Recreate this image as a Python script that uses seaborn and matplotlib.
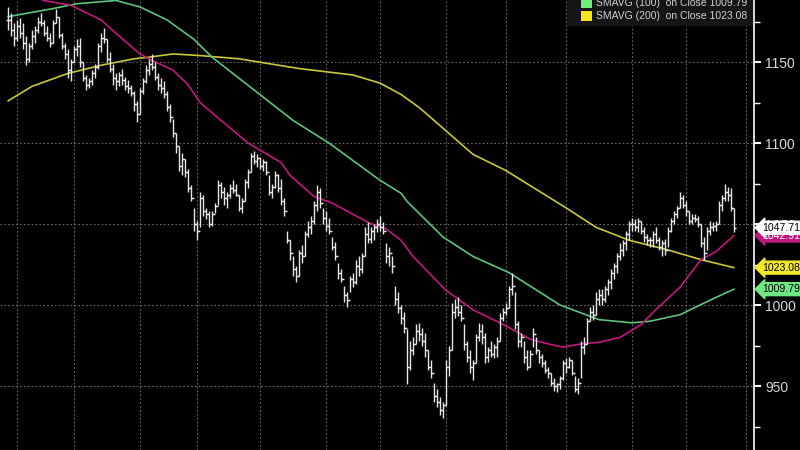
import numpy as np
import pandas as pd
import matplotlib
matplotlib.use("Agg")
import matplotlib.pyplot as plt
from matplotlib.patches import Rectangle
import seaborn as sns

# daily bars (price units)
high = [1184, 1180, 1174, 1176, 1177, 1174, 1166, 1162, 1170, 1172, 1178, 1180, 1176, 1172, 1168, 1176, 1183, 1178, 1168, 1162,
        1158, 1152, 1160, 1164, 1165, 1150, 1142, 1140, 1145, 1149, 1162, 1168, 1171, 1164, 1156, 1149, 1143, 1144, 1146, 1141,
        1139, 1136, 1132, 1126, 1134, 1140, 1148, 1152, 1155, 1150, 1143, 1140, 1138, 1132, 1124,
        1115, 1106, 1098, 1094, 1090, 1084, 1074, 1060, 1052, 1070, 1068, 1060, 1058, 1058, 1063, 1077, 1076, 1073, 1070, 1075,
        1077, 1075, 1068, 1066, 1078, 1084, 1094, 1095, 1093, 1091, 1090, 1089, 1080, 1075, 1083, 1081, 1078, 1066, 1046, 1040,
        1030, 1024, 1034, 1037, 1046, 1052, 1055, 1064, 1074, 1072, 1060, 1058, 1054, 1042, 1039, 1026, 1022, 1012, 1008, 1018,
        1020, 1028, 1030, 1032, 1048, 1051, 1048, 1050, 1053, 1055, 1051, 1038, 1036, 1030, 1012, 1008, 1000, 996, 985, 978,
        980, 988, 989, 986, 983, 972, 966, 952, 948, 943, 940, 966, 975, 1001, 1004, 1005, 1000, 988, 978, 972,
        966, 982, 989, 988, 983, 974, 978, 976, 980, 995, 998, 1001, 1012, 1020, 1008, 990, 983, 978, 972, 972,
        986, 980, 972, 970, 966, 962, 958, 955, 952, 956, 966, 967, 968, 966, 956, 955, 978, 980, 992, 999,
        1000, 1008, 1010,
        1010, 1012, 1016, 1022, 1026, 1032, 1038, 1040, 1046, 1052, 1054, 1053, 1054, 1052, 1048, 1044, 1042, 1046, 1048, 1042,
        1040, 1041, 1048, 1054, 1058, 1061, 1070, 1068, 1064, 1058, 1056, 1056, 1055, 1050, 1042, 1048, 1052, 1051, 1052, 1064,
        1068, 1075, 1073, 1072, 1060]
low = [1170, 1166, 1160, 1163, 1165, 1158, 1148, 1150, 1158, 1162, 1168, 1172, 1166, 1163, 1159, 1162, 1174, 1165, 1158, 1152,
       1140, 1138, 1150, 1154, 1147, 1138, 1133, 1134, 1136, 1140, 1146, 1156, 1162, 1150, 1144, 1136, 1133, 1135, 1136, 1133,
       1131, 1129, 1120, 1113, 1118, 1130, 1137, 1142, 1145, 1139, 1133, 1131, 1128, 1120, 1113,
       1104, 1094, 1083, 1080, 1079, 1070, 1064, 1046, 1040, 1048, 1055, 1053, 1048, 1049, 1057, 1062, 1066, 1062, 1060, 1066,
       1069, 1067, 1058, 1057, 1064, 1072, 1082, 1087, 1085, 1084, 1083, 1080, 1068, 1066, 1072, 1070, 1062, 1055, 1038, 1028,
       1018, 1014, 1018, 1026, 1030, 1042, 1044, 1050, 1058, 1060, 1050, 1046, 1044, 1034, 1028, 1016, 1014, 1002, 999, 1008,
       1011, 1013, 1018, 1020, 1030, 1038, 1038, 1040, 1045, 1046, 1044, 1026, 1024, 1020, 1000, 995, 988, 983, 951, 960,
       969, 976, 978, 975, 968, 960, 955, 940, 937, 932, 930, 938, 956, 972, 992, 993, 990, 972, 965, 958,
       954, 964, 978, 976, 964, 965, 968, 967, 968, 978, 990, 994, 998, 1006, 985, 974, 974, 964, 960, 962,
       974, 970, 964, 962, 958, 955, 950, 947, 946, 948, 954, 958, 961, 957, 946, 945, 955, 970, 976, 990,
       991, 994, 1000,
       1000, 1002, 1006, 1010, 1016, 1020, 1028, 1030, 1034, 1040, 1046, 1046, 1045, 1044, 1039, 1037, 1036, 1036, 1038, 1034,
       1030, 1031, 1036, 1045, 1050, 1054, 1060, 1060, 1055, 1050, 1050, 1051, 1048, 1036, 1028, 1034, 1043, 1046, 1046, 1050,
       1058, 1064, 1064, 1058, 1045]
close = [1176, 1170, 1165, 1172, 1168, 1162, 1152, 1160, 1166, 1170, 1175, 1174, 1168, 1165, 1162, 1174, 1178, 1167, 1160, 1155,
         1145, 1150, 1158, 1160, 1150, 1140, 1136, 1138, 1143, 1147, 1160, 1165, 1164, 1152, 1146, 1140, 1138, 1142, 1139, 1135,
         1134, 1131, 1124, 1118, 1132, 1138, 1145, 1149, 1147, 1141, 1136, 1134, 1130, 1122, 1116,
         1106, 1098, 1086, 1090, 1082, 1072, 1066, 1050, 1046, 1066, 1058, 1056, 1050, 1056, 1061, 1074, 1070, 1066, 1068, 1072,
         1071, 1068, 1060, 1064, 1076, 1082, 1092, 1089, 1091, 1086, 1088, 1082, 1070, 1073, 1080, 1072, 1064, 1058, 1040, 1032,
         1022, 1018, 1032, 1030, 1044, 1048, 1052, 1062, 1070, 1063, 1054, 1049, 1046, 1036, 1030, 1020, 1016, 1006, 1003, 1016,
         1014, 1024, 1022, 1030, 1044, 1041, 1046, 1048, 1050, 1048, 1046, 1030, 1032, 1024, 1004, 998, 992, 986, 962, 972,
         976, 984, 982, 978, 972, 962, 958, 944, 940, 935, 938, 962, 972, 996, 999, 996, 992, 976, 968, 962,
         964, 980, 984, 980, 968, 972, 970, 974, 978, 992, 996, 998, 1010, 1012, 988, 978, 980, 968, 962, 970,
         982, 972, 968, 964, 960, 958, 952, 950, 951, 955, 964, 962, 966, 958, 948, 952, 974, 976, 990, 996,
         994, 1004, 1006,
         1004, 1010, 1014, 1020, 1024, 1030, 1034, 1038, 1044, 1050, 1050, 1048, 1052, 1046, 1042, 1040, 1040, 1044, 1040, 1036,
         1038, 1034, 1046, 1052, 1056, 1060, 1066, 1062, 1058, 1052, 1054, 1053, 1050, 1038, 1032, 1046, 1048, 1049, 1050, 1062,
         1066, 1070, 1068, 1060, 1047.71]

# moving averages read at a few bar positions
sma50_idx = [0, 12, 21, 31, 37, 44, 48, 55, 60, 64, 71, 80, 91, 94, 102, 108, 120, 126, 131, 135, 146, 155, 164,
             174, 180, 185, 191, 197, 204, 211, 217, 224, 231, 236, 242]
sma50_val = [1196, 1188, 1185, 1176, 1166, 1155, 1151, 1145, 1136, 1125, 1114, 1100, 1088, 1080, 1067, 1063, 1051, 1047,
             1040, 1030, 1009, 997, 989, 979, 976, 974, 976, 977, 980, 988, 999, 1011, 1028, 1033, 1042.91]
sma100_idx = [0, 15, 23, 36, 44, 53, 62, 68, 95, 107, 124, 131, 133, 145, 155, 167, 184, 197, 208, 214, 224, 234, 242]
sma100_val = [1178, 1183, 1186, 1188, 1184, 1176, 1164, 1153, 1114, 1100, 1077, 1069, 1064, 1042, 1030, 1020, 1000, 991,
              989, 990, 994, 1003, 1009.79]
sma200_idx = [0, 8, 20, 31, 42, 47, 55, 64, 77, 97, 115, 124, 131, 137, 142, 155, 166, 186, 196, 207, 220, 231, 242]
sma200_val = [1126, 1135, 1143, 1148, 1152, 1153, 1155, 1154, 1152, 1146, 1142, 1137, 1130, 1122, 1114, 1093, 1083,
              1060, 1048, 1040, 1034, 1028, 1023.08]

month_idx = [3, 22, 44, 63, 84, 106, 124, 146, 166, 186, 208, 226, 246]
y_major = [950, 1000, 1050, 1100, 1150]
y_minor = [925, 975, 1025, 1075, 1125, 1175]

last_price = 1047.71
legend_rows = ["SMAVG (100)  on Close 1009.79", "SMAVG (200)  on Close 1023.08"]

c_bar = "#e6e6e6"
c50, c100, c200 = "#c2187e", "#5cc47c", "#c9c83a"

sns.set_style("dark", {"axes.facecolor": "black", "figure.facecolor": "black"})
plt.rcParams["font.family"] = ["Liberation Sans", "DejaVu Sans"]

fig = plt.figure(figsize=(8, 4.5), dpi=100, facecolor="black")
ax = fig.add_axes([0, 0, 754 / 800, 1])
ax.set_facecolor("black")

n = len(close)
idx = np.arange(n)
opn = [close[0]] + close[:-1]

# grid
for m in month_idx:
    ax.axvline(m, color="#6a6a6a", lw=0.8, ls=(0, (1.5, 2)), zorder=0)
for v in y_major:
    ax.axhline(v, color="#6a6a6a", lw=0.8, ls=(0, (1.5, 2)), zorder=0)

# moving averages
ma = pd.concat([
    pd.DataFrame({"i": sma200_idx, "v": sma200_val, "s": "200"}),
    pd.DataFrame({"i": sma100_idx, "v": sma100_val, "s": "100"}),
    pd.DataFrame({"i": sma50_idx, "v": sma50_val, "s": "50"}),
])
sns.lineplot(data=ma, x="i", y="v", hue="s", palette={"50": c50, "100": c100, "200": c200},
             lw=1.2, ax=ax, legend=False, zorder=2)

# OHLC bars
ax.vlines(idx, low, high, color=c_bar, lw=1.0, zorder=3)
ax.hlines(opn, idx - 0.6, idx, color=c_bar, lw=1.0, zorder=3)
ax.hlines(close, idx, idx + 0.6, color=c_bar, lw=1.0, zorder=3)

ax.set_xlim(-2.67, 248.67)
ax.set_ylim(910.5, 1188.3)
ax.set_xlabel("")
ax.set_ylabel("")
ax.set_xticks(month_idx)
ax.set_xticklabels([])
ax.tick_params(axis="x", length=0)
ax.yaxis.tick_right()
ax.set_yticks(y_major)
ax.set_yticks(y_minor, minor=True)
ax.tick_params(axis="y", which="major", direction="out", length=5, width=1.5, color="white",
               labelcolor="#d8d8d8", labelsize=10, pad=3)
ax.tick_params(axis="y", which="minor", direction="out", length=4, width=1, color="white")
for s in ["top", "left", "bottom"]:
    ax.spines[s].set_visible(False)
ax.spines["right"].set_color("white")
ax.spines["right"].set_linewidth(1.2)
ax.grid(False)

# last value tags
tags = [(sma50_val[-1], c50, "white"), (last_price, "white", "black"),
        (sma200_val[-1], "#f2e82a", "black"), (sma100_val[-1], "#6fe884", "black")]
for val, bg, fg in tags:
    ax.annotate(f"{val:.2f}", xy=(762 / 754, val), xycoords=("axes fraction", "data"),
                fontsize=7.6, color=fg, va="center", ha="left", annotation_clip=False,
                bbox=dict(boxstyle="larrow,pad=0.14", fc=bg, ec=bg), zorder=5)

# legend box (cut at the top)
fig.patches.append(Rectangle((567 / 800, 1 - 26 / 450), 186 / 800, 30 / 450,
                             transform=fig.transFigure, fc="#151515", ec="none", zorder=4))
sq = [("#6cf07a", 3), ("#f5e61c", 16)]
for (col, yc), txt in zip(sq, legend_rows):
    fig.patches.append(Rectangle((581 / 800, 1 - (yc + 5) / 450), 11 / 800, 10 / 450,
                                 transform=fig.transFigure, fc=col, ec="none", zorder=5))
    fig.text(596 / 800, 1 - yc / 450, txt, color="#d0d0d0", fontsize=7.5, va="center", ha="left", zorder=6)
fig.lines.append(plt.Line2D([577 / 800, 577 / 800, 579 / 800], [1, 1 - 20 / 450, 1 - 20 / 450],
                            transform=fig.transFigure, color="#777777", lw=0.8))

fig.savefig("out.png", dpi=100, facecolor="black")
